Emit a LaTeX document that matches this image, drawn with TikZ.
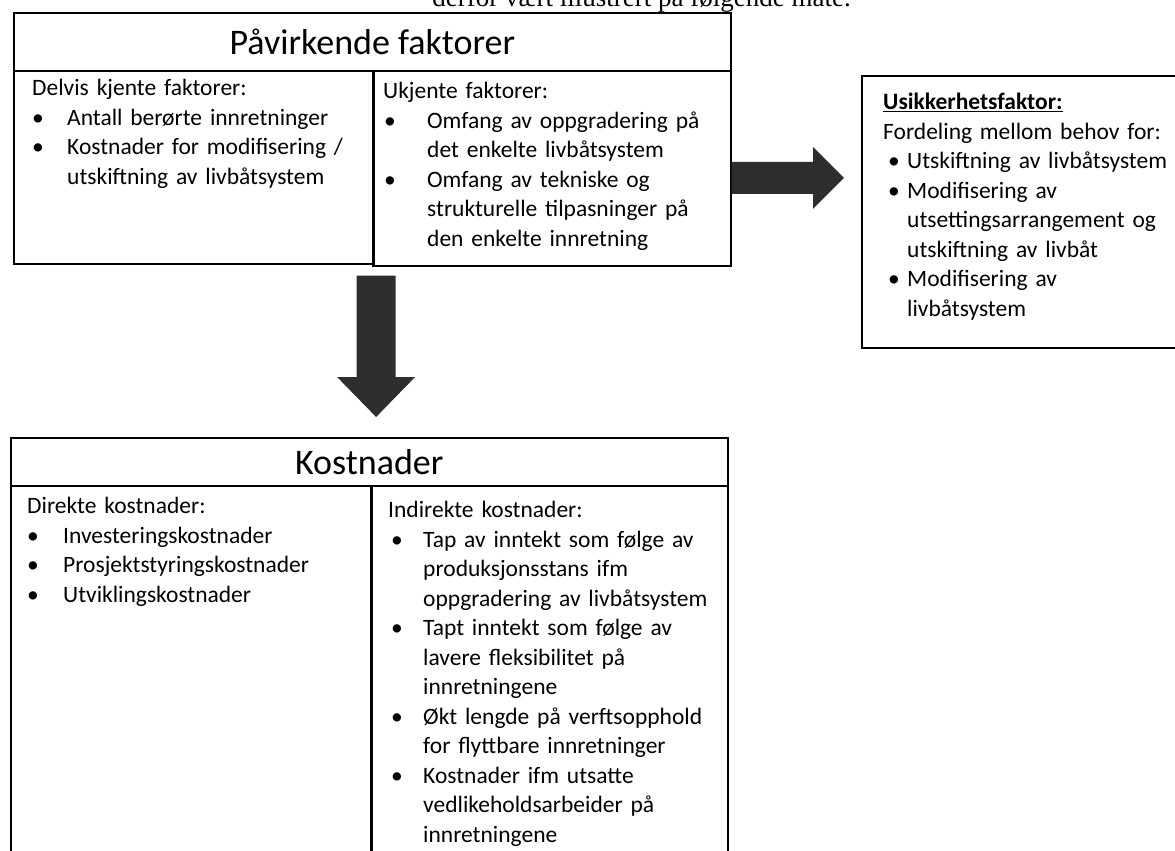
\documentclass[tikz,border=0pt]{standalone}
\usepackage{fontspec}
\setmainfont{Carlito}
\newfontfamily\brodtekst{Liberation Serif}
\usepackage{tikz}
\usetikzlibrary{positioning,calc}

\newlength\pktind
\newlength\pktoff
\newcommand{\pkt}[1]{\par\hangindent=\pktind\hangafter=1\noindent\hspace*{\pktoff}\makebox[\dimexpr\pktind-\pktoff\relax][l]{\textbullet}#1\par}

\tikzset{
  felt/.style={draw, line width=1.6pt, inner sep=0pt, anchor=north west},
  tittel/.style={felt, font=\fontsize{36}{43}\selectfont},
  skille/.style={line width=3pt},
  blokkpil/.style={fill=black!82},
  liste/.style n args={3}{anchor=north west, inner sep=0pt, text width=#1,
    font=\fontsize{23.5}{29.5}\selectfont,
    execute at begin node={\setlength\parindent{0pt}\rightskip=0pt plus 1fil\relax
      \setlength\pktoff{#2}\setlength\pktind{#3}}}
}

\begin{document}
\begin{tikzpicture}[x=1pt,y=-1pt]
      \useasboundingbox (0,0) rectangle (1175,851);
      \clip (0,0) rectangle (1175,851);

      \node[anchor=base east,inner sep=0pt,font=\brodtekst\fontsize{27}{32}\selectfont] (intro) at (851,7) {derfor vært illustrert på følgende måte.};

      \node[tittel,minimum width=717pt,minimum height=58pt] (pTitle) at (13,12) {Påvirkende faktorer};
      \node[felt,minimum width=359pt,minimum height=193pt] (pLeft) at (13,70) {};
      \node[felt,minimum width=358pt,minimum height=195pt] (pRight) at (372,70) {};
      \draw[skille] (pLeft.north east) -- (pLeft.south east);

      \node[felt,minimum width=330pt,minimum height=272pt] (uBox) at (861,75) {};

      \node[tittel,minimum width=717pt,minimum height=48pt] (kTitle) at (10,437) {Kostnader};
      \node[felt,minimum width=360pt,minimum height=420pt] (kLeft) at (10,485) {};
      \node[felt,minimum width=357pt,minimum height=420pt] (kRight) at (370,485) {};
      \draw[skille] (kLeft.north east) -- (kLeft.south east);

      \node[liste={340pt}{0pt}{35pt},below right=9pt and 19pt of pLeft.north west] (pLeftTxt) {Delvis kjente faktorer:
        \pkt{Antall berørte innretninger}
        \pkt{Kostnader for modifisering /\newline utskiftning av livbåtsystem}};
      \node[liste={345pt}{1pt}{44pt},below right=12pt and 11pt of pRight.north west] (pRightTxt) {Ukjente faktorer:
        \pkt{Omfang av oppgradering på\newline det enkelte livbåtsystem}
        \pkt{Omfang av tekniske og\newline strukturelle tilpasninger på\newline den enkelte innretning}};
      \node[liste={320pt}{5pt}{24pt},below right=18pt and 22pt of uBox.north west] (uTxt) {\textbf{\underline{Usikkerhetsfaktor:}}\par
        Fordeling mellom behov for:
        \pkt{Utskiftning av livbåtsystem}
        \pkt{Modifisering av\newline utsettingsarrangement og\newline utskiftning av livbåt}
        \pkt{Modifisering av\newline livbåtsystem}};
      \node[liste={340pt}{0pt}{36pt},below right=12pt and 17pt of kLeft.north west] (kLeftTxt) {Direkte kostnader:
        \pkt{Investeringskostnader}
        \pkt{Prosjektstyringskostnader}
        \pkt{Utviklingskostnader}};
      \node[liste={340pt}{3pt}{35pt},below right=16pt and 18pt of kRight.north west] (kRightTxt) {Indirekte kostnader:
        \pkt{Tap av inntekt som følge av\newline produksjonsstans ifm\newline oppgradering av livbåtsystem}
        \pkt{Tapt inntekt som følge av\newline lavere fleksibilitet på\newline innretningene}
        \pkt{Økt lengde på verftsopphold\newline for flyttbare innretninger}
        \pkt{Kostnader ifm utsatte\newline vedlikeholdsarbeider på\newline innretningene}};

      \coordinate (dS) at ($(pLeft.south east)+(2.5,11)$);
      \coordinate (dT) at ($(dS |- kTitle.north)+(0,-20)$);
      \fill[blokkpil] ($(dS)+(-19.5,0)$) -- ($(dS)+(19.5,0)$) -- ($(dT)+(19.5,-40)$) -- ($(dT)+(39,-40)$)
        -- (dT) -- ($(dT)+(-39,-40)$) -- ($(dT)+(-19.5,-40)$) -- cycle;

      \coordinate (rS) at ($(pRight.east)+(0,9.5)$);
      \coordinate (rT) at ($(uBox.west |- rS)+(-17,0)$);
      \fill[blokkpil] ($(rS)+(0,-16)$) -- ($(rT)+(-31,-16)$) -- ($(rT)+(-31,-31)$) -- (rT)
        -- ($(rT)+(-31,31)$) -- ($(rT)+(-31,16)$) -- ($(rS)+(0,16)$) -- cycle;
\end{tikzpicture}
\end{document}
